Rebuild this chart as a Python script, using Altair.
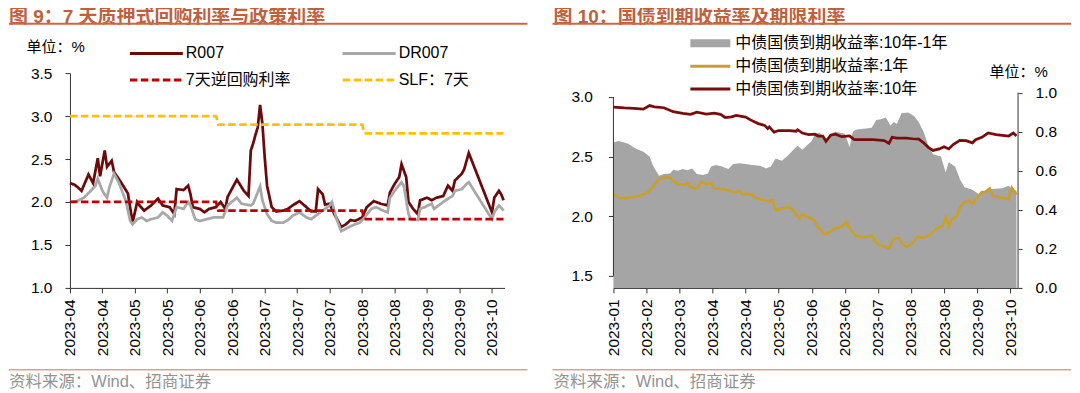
import altair as alt
import pandas as pd

# ---------------- 图 9 data ----------------
r007_dates = [
    "2023-04-10", "2023-04-12", "2023-04-13", "2023-04-15", "2023-04-18", "2023-04-20", "2023-04-22", "2023-04-23",
    "2023-04-25", "2023-04-26", "2023-04-28", "2023-04-29",
    "2023-05-02", "2023-05-05", "2023-05-07", "2023-05-09", "2023-05-10", "2023-05-12", "2023-05-15", "2023-05-18",
    "2023-05-20", "2023-05-23", "2023-05-25", "2023-05-26", "2023-05-29", "2023-05-31",
    "2023-06-01", "2023-06-02", "2023-06-05", "2023-06-07", "2023-06-09", "2023-06-12", "2023-06-14", "2023-06-16",
    "2023-06-17", "2023-06-21", "2023-06-24", "2023-06-26", "2023-06-27", "2023-06-28", "2023-06-29", "2023-06-30",
    "2023-07-01", "2023-07-02", "2023-07-03", "2023-07-04", "2023-07-06", "2023-07-08", "2023-07-11", "2023-07-13",
    "2023-07-15", "2023-07-18", "2023-07-21", "2023-07-23", "2023-07-25", "2023-07-26", "2023-07-28", "2023-07-29",
    "2023-07-31",
    "2023-08-02", "2023-08-05", "2023-08-07", "2023-08-09", "2023-08-11", "2023-08-14", "2023-08-16", "2023-08-19",
    "2023-08-22", "2023-08-25", "2023-08-26", "2023-08-28", "2023-08-30", "2023-08-31",
    "2023-09-02", "2023-09-03", "2023-09-05", "2023-09-07", "2023-09-08", "2023-09-11", "2023-09-13", "2023-09-15",
    "2023-09-18", "2023-09-20", "2023-09-22", "2023-09-23", "2023-09-26", "2023-09-27", "2023-09-29",
    "2023-10-09", "2023-10-10", "2023-10-12", "2023-10-13", "2023-10-14",
]
r007_vals = [
    2.22, 2.20, 2.18, 2.13, 2.32, 2.22, 2.51, 2.30, 2.60, 2.41, 2.48, 2.35,
    2.23, 2.10, 1.76, 2.00, 1.96, 1.90, 1.96, 2.04, 1.96, 1.94, 1.86, 2.15, 2.14, 2.19,
    2.09, 1.94, 1.92, 1.88, 1.92, 1.94, 2.00, 1.92, 2.06, 2.26, 2.13, 2.07, 2.60, 2.68, 2.78, 2.87,
    3.13, 2.91, 2.52, 2.19, 1.94, 1.89, 1.90, 1.92, 1.96, 2.01, 1.94, 1.89, 1.89, 2.15, 2.09, 1.97, 1.98,
    1.86, 1.71, 1.74, 1.79, 1.78, 1.82, 1.94, 2.01, 1.98, 1.96, 2.11, 2.21, 2.29, 2.44,
    2.29, 2.00, 1.92, 1.86, 2.02, 2.05, 2.02, 2.05, 2.07, 2.19, 2.13, 2.25, 2.33, 2.38, 2.57,
    1.88, 2.05, 2.13, 2.09, 2.02,
]
dr007_dates = [
    "2023-04-10", "2023-04-13", "2023-04-16", "2023-04-19", "2023-04-21", "2023-04-22", "2023-04-24", "2023-04-26",
    "2023-04-27", "2023-04-29",
    "2023-05-01", "2023-05-04", "2023-05-06", "2023-05-07", "2023-05-09", "2023-05-11", "2023-05-13", "2023-05-15",
    "2023-05-18", "2023-05-20", "2023-05-22", "2023-05-24", "2023-05-26", "2023-05-29", "2023-05-31",
    "2023-06-01", "2023-06-03", "2023-06-05", "2023-06-08", "2023-06-11", "2023-06-15", "2023-06-17", "2023-06-21",
    "2023-06-23", "2023-06-27", "2023-06-28",
    "2023-07-01", "2023-07-02", "2023-07-04", "2023-07-06", "2023-07-08", "2023-07-11", "2023-07-13", "2023-07-15",
    "2023-07-18", "2023-07-21", "2023-07-23", "2023-07-26", "2023-07-28", "2023-07-31",
    "2023-08-01", "2023-08-03", "2023-08-05", "2023-08-07", "2023-08-10", "2023-08-13", "2023-08-15", "2023-08-18",
    "2023-08-20", "2023-08-23", "2023-08-25", "2023-08-26", "2023-08-28", "2023-08-31",
    "2023-09-01", "2023-09-03", "2023-09-04", "2023-09-07", "2023-09-08", "2023-09-10", "2023-09-13", "2023-09-14",
    "2023-09-16", "2023-09-19", "2023-09-22", "2023-09-23", "2023-09-26", "2023-09-28", "2023-09-29",
    "2023-10-09", "2023-10-10", "2023-10-12", "2023-10-14",
]
dr007_vals = [
    2.00, 2.01, 2.05, 2.13, 2.19, 2.27, 2.13, 2.05, 2.17, 2.33,
    2.23, 2.02, 1.78, 1.74, 1.80, 1.82, 1.78, 1.80, 1.82, 1.88, 1.84, 1.78, 1.94, 1.92, 2.00,
    1.96, 1.80, 1.78, 1.80, 1.82, 1.82, 1.96, 2.05, 1.98, 1.96, 1.98,
    2.18, 2.02, 1.86, 1.78, 1.76, 1.76, 1.79, 1.84, 1.88, 1.82, 1.80, 1.86, 1.90, 1.96,
    2.00, 1.80, 1.66, 1.69, 1.73, 1.76, 1.82, 1.92, 1.94, 1.90, 1.88, 2.05, 2.13, 2.23,
    2.19, 1.86, 1.80, 1.79, 1.92, 1.94, 1.98, 1.92, 1.96, 2.02, 2.07, 2.13, 2.15, 2.21, 2.23,
    1.80, 1.88, 1.96, 1.90,
]
policy_dates = ["2023-04-10", "2023-06-12", "2023-06-13", "2023-08-14", "2023-08-15", "2023-10-14"]
repo_vals = [2.0, 2.0, 1.9, 1.9, 1.8, 1.8]
slf_vals = [3.0, 3.0, 2.9, 2.9, 2.8, 2.8]
left_tick_dates = ["2023-04-10", "2023-04-24", "2023-05-08", "2023-05-22", "2023-06-05", "2023-06-19", "2023-07-03",
                   "2023-07-17", "2023-07-31", "2023-08-14", "2023-08-28", "2023-09-11", "2023-09-25", "2023-10-09"]
left_y_ticks = [1.0, 1.5, 2.0, 2.5, 3.0, 3.5]
# legend grid is filled column by column: R007 / 7天逆回购利率 | DR007 / SLF：7天
left_series = ["R007", "7天逆回购利率", "DR007", "SLF：7天"]
left_colors = ["#6B0A0A", "#C00000", "#A8A8A8", "#FFC000"]
left_dashes = [[1, 0], [7.5, 3.5], [1, 0], [7.5, 3.5]]

# ---------------- 图 10 data ----------------
y10_dates = [
    "2023-01-28", "2023-02-04", "2023-02-10", "2023-02-16", "2023-02-20", "2023-02-23",
    "2023-03-01", "2023-03-07", "2023-03-13", "2023-03-18", "2023-03-22", "2023-03-28",
    "2023-04-02", "2023-04-06", "2023-04-09", "2023-04-13", "2023-04-16", "2023-04-22", "2023-04-25", "2023-04-30",
    "2023-05-04", "2023-05-06", "2023-05-07", "2023-05-10", "2023-05-13", "2023-05-20", "2023-05-24", "2023-05-25",
    "2023-05-28",
    "2023-06-01", "2023-06-05", "2023-06-07", "2023-06-10", "2023-06-12", "2023-06-15", "2023-06-18", "2023-06-22",
    "2023-06-27", "2023-06-30",
    "2023-07-05", "2023-07-12", "2023-07-19", "2023-07-22", "2023-07-24", "2023-07-27",
    "2023-08-02", "2023-08-06", "2023-08-10", "2023-08-13", "2023-08-16", "2023-08-19", "2023-08-23", "2023-08-26",
    "2023-08-29",
    "2023-09-01", "2023-09-05", "2023-09-09", "2023-09-13", "2023-09-15", "2023-09-19", "2023-09-23", "2023-09-28",
    "2023-10-06", "2023-10-09", "2023-10-11",
]
y10_vals = [
    2.915, 2.908, 2.905, 2.898, 2.928, 2.918,
    2.910, 2.877, 2.862, 2.854, 2.872, 2.857,
    2.864, 2.854, 2.828, 2.834, 2.846, 2.831, 2.808, 2.777,
    2.762, 2.736, 2.749, 2.706, 2.719, 2.719, 2.713, 2.726, 2.698,
    2.685, 2.688, 2.673, 2.673, 2.629, 2.680, 2.688, 2.667, 2.673, 2.642,
    2.642, 2.642, 2.634, 2.611, 2.662, 2.655,
    2.655, 2.650, 2.647, 2.616, 2.578, 2.552, 2.565, 2.583, 2.565,
    2.603, 2.637, 2.634, 2.616, 2.642, 2.662, 2.698, 2.685,
    2.673, 2.698, 2.673,
]
y1_dates = [
    "2023-01-28", "2023-02-02", "2023-02-09", "2023-02-15", "2023-02-19", "2023-02-22", "2023-02-25",
    "2023-03-01", "2023-03-04", "2023-03-07", "2023-03-10", "2023-03-14", "2023-03-16", "2023-03-18", "2023-03-22",
    "2023-03-25", "2023-03-28", "2023-03-31",
    "2023-04-02", "2023-04-08", "2023-04-12", "2023-04-15", "2023-04-18", "2023-04-20", "2023-04-25", "2023-04-28",
    "2023-05-03", "2023-05-07", "2023-05-09", "2023-05-11", "2023-05-16", "2023-05-19", "2023-05-22", "2023-05-24",
    "2023-05-26", "2023-05-28",
    "2023-06-01", "2023-06-04", "2023-06-07", "2023-06-10", "2023-06-12", "2023-06-14", "2023-06-18", "2023-06-22",
    "2023-06-25", "2023-06-28",
    "2023-07-01", "2023-07-05", "2023-07-11", "2023-07-14", "2023-07-18", "2023-07-22", "2023-07-25", "2023-07-28",
    "2023-07-31",
    "2023-08-02", "2023-08-06", "2023-08-09", "2023-08-13", "2023-08-17", "2023-08-21", "2023-08-25", "2023-08-27",
    "2023-08-29", "2023-08-31",
    "2023-09-03", "2023-09-05", "2023-09-08", "2023-09-11", "2023-09-13", "2023-09-16", "2023-09-19", "2023-09-21",
    "2023-09-24", "2023-09-26",
    "2023-10-01", "2023-10-06", "2023-10-08", "2023-10-11",
]
y1_vals = [
    2.182, 2.151, 2.161, 2.177, 2.202, 2.246, 2.297,
    2.327, 2.330, 2.297, 2.271, 2.264, 2.279, 2.246, 2.233, 2.289, 2.271, 2.279,
    2.233, 2.228, 2.212, 2.202, 2.212, 2.187, 2.187, 2.156,
    2.138, 2.126, 2.136, 2.054, 2.067, 2.080, 2.054, 2.016, 1.982, 2.016,
    1.990, 1.972, 1.906, 1.862, 1.850, 1.870, 1.900, 1.913, 1.952, 1.880,
    1.837, 1.824, 1.837, 1.778, 1.752, 1.734, 1.811, 1.819, 1.760,
    1.747, 1.773, 1.829, 1.819, 1.844, 1.895, 1.921, 1.990, 1.913, 1.977,
    1.998, 2.080, 2.118, 2.136, 2.105, 2.156, 2.202, 2.202, 2.233, 2.169,
    2.161, 2.143, 2.238, 2.182,
]
spread_dates = [
    "2023-01-28", "2023-01-31",
    "2023-02-04", "2023-02-07", "2023-02-11", "2023-02-16", "2023-02-20", "2023-02-22", "2023-02-24", "2023-02-26",
    "2023-03-01", "2023-03-05", "2023-03-07", "2023-03-10", "2023-03-13", "2023-03-16", "2023-03-19", "2023-03-22",
    "2023-03-26", "2023-03-29", "2023-03-31",
    "2023-04-03", "2023-04-07", "2023-04-11", "2023-04-14", "2023-04-18", "2023-04-22", "2023-04-26",
    "2023-05-01", "2023-05-05", "2023-05-08", "2023-05-11", "2023-05-15", "2023-05-19", "2023-05-23", "2023-05-25",
    "2023-05-28", "2023-05-31",
    "2023-06-03", "2023-06-05", "2023-06-08", "2023-06-12", "2023-06-15", "2023-06-18", "2023-06-24", "2023-06-27",
    "2023-06-29",
    "2023-07-01", "2023-07-11", "2023-07-14", "2023-07-17", "2023-07-20", "2023-07-23", "2023-07-25", "2023-07-27",
    "2023-07-30",
    "2023-08-03", "2023-08-07", "2023-08-10", "2023-08-13", "2023-08-16", "2023-08-19", "2023-08-24", "2023-08-27",
    "2023-08-29",
    "2023-09-02", "2023-09-05", "2023-09-08", "2023-09-13", "2023-09-17", "2023-09-21", "2023-09-25",
    "2023-10-02", "2023-10-06", "2023-10-08", "2023-10-11",
]
spread_vals = [
    0.745, 0.752,
    0.745, 0.736, 0.714, 0.697, 0.673, 0.629, 0.600, 0.575,
    0.583, 0.586, 0.605, 0.600, 0.609, 0.603, 0.612, 0.583, 0.578, 0.586, 0.622,
    0.629, 0.622, 0.609, 0.634, 0.639, 0.634, 0.629,
    0.626, 0.612, 0.622, 0.663, 0.651, 0.680, 0.714, 0.728, 0.707, 0.731,
    0.753, 0.790, 0.795, 0.760, 0.790, 0.800, 0.790, 0.720, 0.800,
    0.810, 0.820, 0.860, 0.864, 0.873, 0.830, 0.850, 0.840, 0.895,
    0.898, 0.880, 0.847, 0.800, 0.728, 0.685, 0.673, 0.592, 0.643,
    0.622, 0.558, 0.515, 0.503, 0.481, 0.498, 0.507,
    0.510, 0.523, 0.507, 0.498,
]
right_tick_dates = ["2023-01-28", "2023-02-18", "2023-03-11", "2023-04-01", "2023-04-22", "2023-05-13", "2023-06-03",
                    "2023-06-24", "2023-07-15", "2023-08-05", "2023-08-26", "2023-09-16", "2023-10-07"]
right_left_ticks = [1.5, 2.0, 2.5, 3.0]
right_right_ticks = [0.0, 0.2, 0.4, 0.6, 0.8, 1.0]
area_series = ["中债国债到期收益率:10年-1年"]
line_series = ["中债国债到期收益率:1年", "中债国债到期收益率:10年"]

# ---------------- styling ----------------
MIX = "Liberation Sans, Noto Sans CJK SC"
AXIS_C = "#333333"
TITLE_C = "#C0603C"
RULE_C = "#C8684A"
RULE2_C = "#DDA18A"
SRC_C = "#939393"


def dt(s, hours=0):
    y, m, d = map(int, s.split("-"))
    return alt.DateTime(year=y, month=m, date=d, hours=hours, utc=True)


def frame(dates, vals, name, col="series"):
    return pd.DataFrame({"date": dates, "value": vals, col: name})


def x_enc(domain, ticks):
    return alt.X("date:T",
                 scale=alt.Scale(type="utc", domain=domain),
                 axis=alt.Axis(values=[dt(t) for t in ticks], format="%Y-%m", labelAngle=270, tickSize=5,
                               labelPadding=6, title=None, labelOverlap=False, labelFlush=False,
                               labelBound=False))


one = pd.DataFrame({"k": [0]})


def deco(title, src, tx):
    t = alt.Chart(one).mark_text(text=title, align="left", baseline="middle", font=MIX, fontSize=19,
                                 fontWeight="bold", color=TITLE_C).encode(x=alt.value(tx), y=alt.value(-56))
    u = alt.Chart(one).mark_rule(color=RULE_C, strokeWidth=2).encode(
        x=alt.value(-61), x2=alt.value(458), y=alt.value(-49.5))
    b = alt.Chart(one).mark_rule(color=RULE2_C, strokeWidth=1.5).encode(
        x=alt.value(-61), x2=alt.value(458), y=alt.value(297))
    s = alt.Chart(one).mark_text(text=src, align="left", baseline="middle", font=MIX, fontSize=16.5,
                                 color=SRC_C).encode(x=alt.value(tx), y=alt.value(309))
    return [t, u, b, s]


# ---------------- left panel ----------------
xL = x_enc([dt("2023-04-10"), dt("2023-10-14", 10)], left_tick_dates)
yL = alt.Y("value:Q", scale=alt.Scale(domain=[1.0, 3.5]),
           axis=alt.Axis(values=left_y_ticks, format=".1f", tickSize=5, labelPadding=13,
                         title="单位：%", titleAngle=0, titleX=-44, titleY=-26.5, titleAlign="left",
                         titleBaseline="middle", titleFont=MIX, titleFontSize=15, titleFontWeight="normal",
                         titleColor="#000000"))
left_legend = alt.Legend(orient="none", legendX=77, legendY=-29.5, columns=2, columnPadding=46, rowPadding=9,
                         symbolType="M-3.3125,0H3.3125", symbolSize=256, symbolStrokeWidth=3, labelFont=MIX,
                         labelFontSize=16, labelOffset=20, labelLimit=400, title=None, padding=0)
strokeL = alt.Stroke("series:N", scale=alt.Scale(domain=left_series, range=left_colors), legend=left_legend)
dashL = alt.StrokeDash("series:N", scale=alt.Scale(domain=left_series, range=left_dashes), legend=left_legend)


def left_line(df):
    return alt.Chart(df).mark_line(strokeWidth=2.75).encode(x=xL, y=yL, stroke=strokeL, strokeDash=dashL)


left = alt.layer(
    left_line(frame(r007_dates, r007_vals, "R007")),
    left_line(frame(dr007_dates, dr007_vals, "DR007")),
    left_line(frame(policy_dates, repo_vals, "7天逆回购利率")),
    left_line(frame(policy_dates, slf_vals, "SLF：7天")),
    *deco("图 9：7 天质押式回购利率与政策利率", "资料来源：Wind、招商证券", -61),
).properties(width=435, height=215)

# ---------------- right panel ----------------
xR = x_enc([dt("2023-01-28"), dt("2023-10-12")], right_tick_dates)
ySpread = alt.Y("value:Q", scale=alt.Scale(domain=[0, 1.0985]),
                axis=alt.Axis(orient="right", values=right_right_ticks, format=".1f", tickSize=4,
                              labelPadding=13, domain=False, title="单位：%", titleAngle=0, titleX=-29,
                              titleY=-1.5, titleAlign="left", titleBaseline="middle", titleFont=MIX,
                              titleFontSize=15, titleFontWeight="normal", titleColor="#000000"))
yRate = alt.Y("value:Q", scale=alt.Scale(domain=[1.5, 3.1477]),
              axis=alt.Axis(orient="left", values=right_left_ticks, format=".1f", tickSize=5,
                            labelPadding=16, domain=False, title=None))

area = alt.Chart(frame(spread_dates, spread_vals, area_series[0], "area_series")).mark_area().encode(
    x=xR, y=ySpread,
    fill=alt.Fill("area_series:N", scale=alt.Scale(domain=area_series, range=["#A5A5A5"]),
                  legend=alt.Legend(orient="none", legendX=89, legendY=-38,
                                    symbolType="M-2.5,-0.5H2.5V0.5H-2.5Z", symbolSize=256,
                                    symbolStrokeWidth=0, labelFont=MIX, labelFontSize=16,
                                    labelOffset=17, labelLimit=400, title=None, padding=0)))
right_axis_line = alt.Chart(one).mark_rule(color=AXIS_C, strokeWidth=1).encode(
    x=alt.value(405), y=alt.datum(0.0), y2=alt.datum(1.0))

strokeR = alt.Stroke("line_series:N", scale=alt.Scale(domain=line_series, range=["#C9A02E", "#7B0C0C"]),
                     legend=alt.Legend(orient="none", legendX=87.5, legendY=-16.3, rowPadding=4.8,
                                       symbolType="M-2.5,0H2.5", symbolSize=256, symbolStrokeWidth=3,
                                       labelFont=MIX, labelFontSize=16, labelOffset=15.5, labelLimit=400,
                                       title=None, padding=0))


def right_line(df):
    return alt.Chart(df).mark_line(strokeWidth=2.75).encode(x=xR, y=yRate, stroke=strokeR)


left_axis_line = alt.Chart(one).mark_rule(color=AXIS_C, strokeWidth=1).encode(
    x=alt.value(0), y=alt.datum(1.5), y2=alt.datum(3.0))

area_group = alt.layer(area, right_axis_line)
line_group = alt.layer(
    right_line(frame(y1_dates, y1_vals, line_series[0], "line_series")),
    right_line(frame(y10_dates, y10_vals, line_series[1], "line_series")),
    left_axis_line,
)

right = alt.layer(
    area_group, line_group,
    *deco("图 10：国债到期收益率及期限利率", "资料来源：Wind、招商证券", -60),
).resolve_scale(y="independent").properties(width=405, height=215)

chart = alt.hconcat(left, right, spacing=109, bounds="flush").resolve_scale(
    stroke="independent", strokeDash="independent", fill="independent"
).resolve_legend(
    stroke="independent", strokeDash="independent", fill="independent"
).properties(padding=0).configure_view(
    stroke=None
).configure_axis(
    labelFont="Liberation Sans", labelFontSize=15.5, labelColor="#000000", domainColor=AXIS_C,
    tickColor=AXIS_C, grid=False
).configure_legend(labelColor="#000000")

chart.save("out.html", embed_options={"renderer": "svg", "actions": False})
